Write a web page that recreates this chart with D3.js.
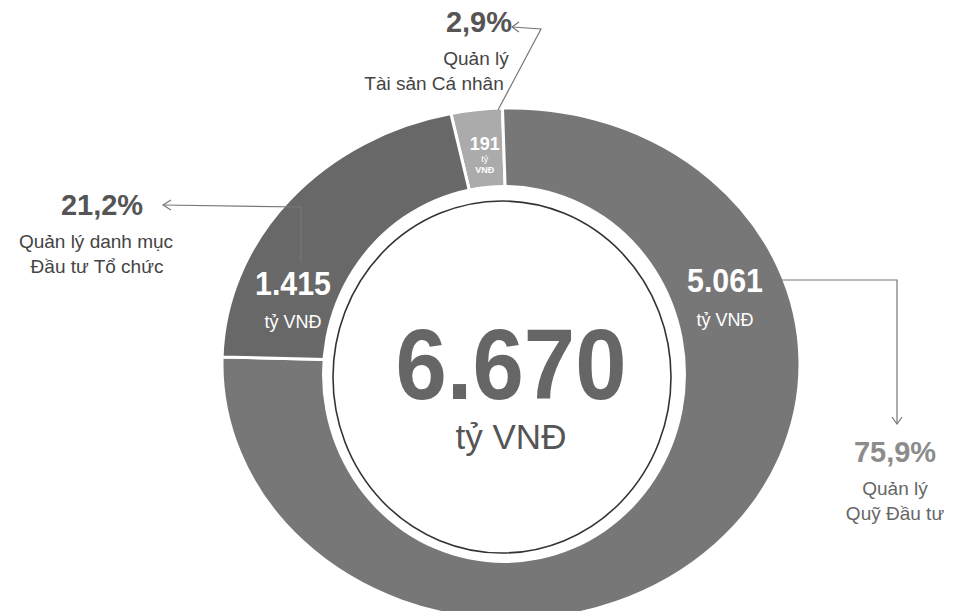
<!DOCTYPE html>
<html>
<head>
<meta charset="utf-8">
<script src="https://cdn.jsdelivr.net/npm/d3@7"></script>
<style>
	body { margin: 0; background: #fff; }
	svg { display: block; font-family: "Liberation Sans", Arial, sans-serif; }
</style>
</head>
<body>
<div class="chart"></div>
<script>
// data (ty VND)
var segments = ["Tài sản Cá nhân", "Quỹ Đầu tư", "danh mục Đầu tư Tổ chức"];
var values = [191, 5061, 1415];
var valueText = ["191", "5.061", "1.415"];
var shareText = ["2,9%", "75,9%", "21,2%"];
var sliceColors = ["#ababab", "#777777", "#686868"];
var totalText = "6.670";
var unitText = "tỷ VNĐ";

var width = 961, height = 611;
var svg = d3.select(".chart").append("svg")
	.attr("width", width)
	.attr("height", height);

// ring is an ellipse: draw the pie on a circle of radius R and stretch it
var ring = {cx: 511, cy: 364, rx: 289, ry: 256};
var R = 100;
var start = -12 * Math.PI / 180;

var pie = d3.pie()
	.sort(null)
	.value(function(d) { return d; })
	.startAngle(start)
	.endAngle(start + 2 * Math.PI);

var arc = d3.arc()
	.innerRadius(R * 0.5)
	.outerRadius(R);

var g = svg.append("g")
	.attr("transform", "translate(" + ring.cx + "," + ring.cy + ") scale(" + ring.rx / R + "," + ring.ry / R + ")");

var arcs = pie(values);
g.selectAll("path")
	.data(arcs)
	.join("path")
	.attr("d", arc)
	.attr("fill", function(d, i) { return sliceColors[i]; })
	.attr("stroke", "#fff")
	.attr("stroke-width", 3)
	.attr("vector-effect", "non-scaling-stroke");

// white hole and thin outline in the middle
svg.append("ellipse")
	.attr("cx", 504).attr("cy", 374)
	.attr("rx", 182).attr("ry", 189)
	.attr("fill", "#fff");
svg.append("ellipse")
	.attr("cx", 502).attr("cy", 377)
	.attr("rx", 169).attr("ry", 176)
	.attr("fill", "none")
	.attr("stroke", "#333")
	.attr("stroke-width", 1.6);

// total in the middle
svg.append("text")
	.attr("x", 511).attr("y", 399)
	.attr("text-anchor", "middle")
	.attr("font-size", 100)
	.attr("font-weight", "bold")
	.attr("textLength", 231)
	.attr("lengthAdjust", "spacingAndGlyphs")
	.attr("fill", "#666")
	.text(totalText);
svg.append("text")
	.attr("x", 511).attr("y", 449)
	.attr("text-anchor", "middle")
	.attr("font-size", 35)
	.attr("fill", "#555")
	.text(unitText);

// value labels inside the ring
function sliceLabel(x, y, gap, i) {
	var t = svg.append("g").attr("fill", "#fff").attr("text-anchor", "middle");
	t.append("text")
		.attr("x", x).attr("y", y)
		.attr("font-size", 33)
		.attr("font-weight", "bold")
		.attr("textLength", 76)
		.attr("lengthAdjust", "spacingAndGlyphs")
		.text(valueText[i]);
	t.append("text")
		.attr("x", x).attr("y", y + gap)
		.attr("font-size", 18)
		.text(unitText);
}
// small slice: label sits at the centroid of the slice
var lab = d3.arc().innerRadius(R * 0.82).outerRadius(R * 0.82).centroid(arcs[0]);
var sx = ring.cx + lab[0] * ring.rx / R + 2;
var small = svg.append("g").attr("fill", "#fff").attr("text-anchor", "middle");
small.append("text").attr("x", sx).attr("y", 150).attr("font-size", 18).attr("font-weight", "bold").text(valueText[0]);
small.append("text").attr("x", sx).attr("y", 162).attr("font-size", 9).text("tỷ");
small.append("text").attr("x", sx).attr("y", 173).attr("font-size", 9).attr("font-weight", "bold").text("VNĐ");

sliceLabel(725, 292, 34, 1);
sliceLabel(293, 295, 33, 2);

// callouts
function callout(x, y, color, subColor, i, lines, lx) {
	var t = svg.append("g").attr("text-anchor", "middle");
	t.append("text")
		.attr("x", x).attr("y", y)
		.attr("font-size", 29)
		.attr("font-weight", "bold")
		.attr("fill", color)
		.text(shareText[i]);
	lines.forEach(function(s, k) {
		t.append("text")
			.attr("x", lx[k]).attr("y", y + 33 + k * 25)
			.attr("font-size", 19)
			.attr("fill", subColor)
			.text(s);
	});
}
callout(479, 32, "#555", "#444", 0, ["Quản lý", segments[0]], [476, 434]);
callout(102, 215, "#555", "#444", 2, ["Quản lý danh mục", "Đầu tư Tổ chức"], [96, 97]);
callout(895, 462, "#8c8c8c", "#666", 1, ["Quản lý", segments[1]], [895, 895]);

// leader lines with small open arrowheads
var leader = svg.append("g")
	.attr("fill", "none")
	.attr("stroke", "#777")
	.attr("stroke-width", 1.2);
leader.append("path").attr("d", "M512,27 L541,29 L498,110");
leader.append("path").attr("d", "M519,22 L512,27 L519,32");
leader.append("path").attr("d", "M163,205 L301,207 L301,262");
leader.append("path").attr("d", "M171,200 L163,205 L171,210");
leader.append("path").attr("d", "M770,280 L897,280 L897,424");
leader.append("path").attr("d", "M892,417 L897,424 L902,417");
</script>
</body>
</html>
